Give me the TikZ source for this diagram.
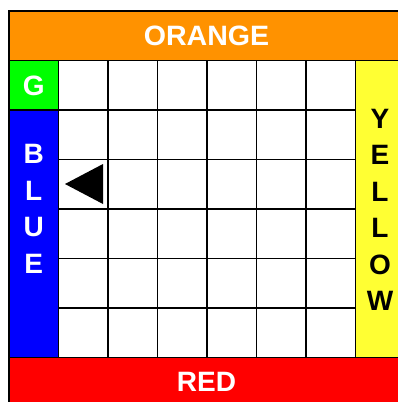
\documentclass[tikz,border=0pt]{standalone}
\usepackage{fontspec}
\setmainfont{Liberation Sans}
\definecolor{borange}{RGB}{255,146,0}
\definecolor{bgreen}{RGB}{0,255,0}
\definecolor{bblue}{RGB}{0,0,255}
\definecolor{byellow}{RGB}{255,255,51}
\definecolor{bred}{RGB}{255,0,0}
\begin{document}
\begin{tikzpicture}[x=1pt,y=-1pt,
  cellbox/.style={draw=black,line width=1.3pt},
  lab/.style={font=\fontsize{28}{36.5}\selectfont\bfseries,inner sep=0pt,align=center}]
\useasboundingbox (0,0) rectangle (398,402);
\fill[white] (0,0) rectangle (398,402);
% bands
\draw[cellbox,fill=borange] (9,11) rectangle (405,60.5);
\draw[cellbox,fill=bred] (9,357.5) rectangle (405,407);
\draw[cellbox,fill=bgreen] (9,60.5) rectangle (58.5,110);
\draw[cellbox,fill=bblue] (9,110) rectangle (58.5,357.5);
\draw[cellbox,fill=byellow] (355.5,60.5) rectangle (405,357.5);
% grid
\foreach \i in {0,...,5}
  \foreach \j in {0,...,5}
    \draw[cellbox] ({58.5+\i*49.5},{60.5+\j*49.5}) rectangle +(49.5,49.5);
% triangle
\fill[black] (65,184) -- (103,164) -- (103,204) -- cycle;
% labels
\node[lab,text=white] (orange) at (206.5,35.5) {\scalebox{1.02}[1]{ORANGE}};
\node[lab,text=white] (red) at (206.5,381.5) {RED};
\node[lab,text=white] (g) at (33.75,86) {G};
\node[lab,text=white] (blue) at (33.75,208.75) {B\\L\\U\\E};
\node[lab,text=black] (yellow) at (380,210) {Y\\E\\L\\L\\O\\W};
\end{tikzpicture}
\end{document}
